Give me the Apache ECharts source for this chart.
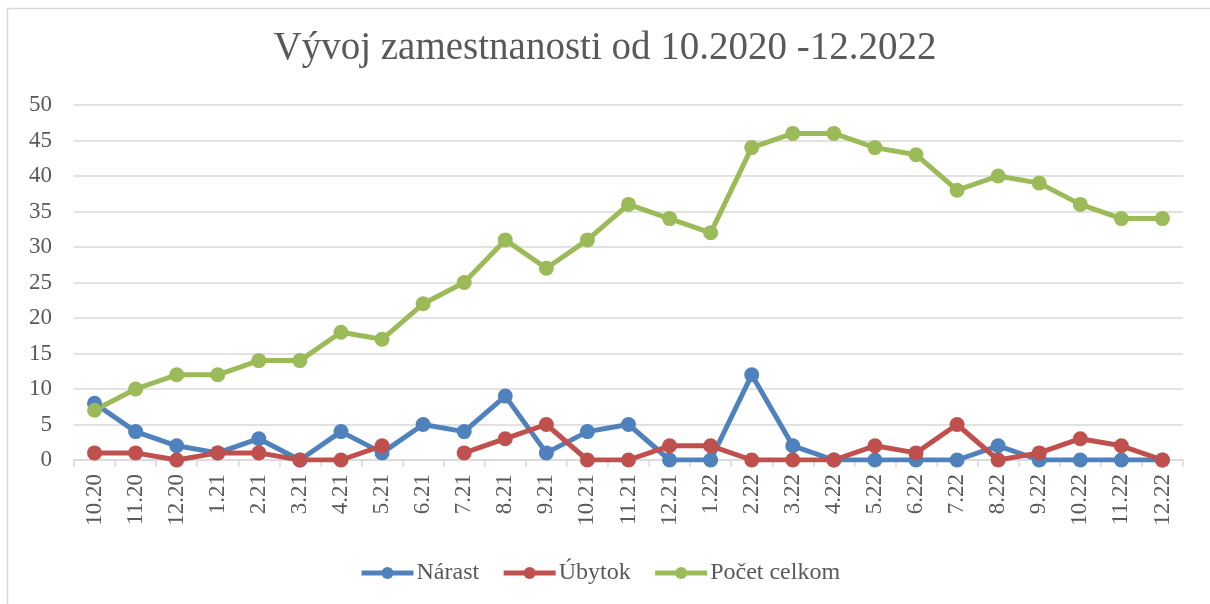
<!DOCTYPE html>
<html>
<head>
<meta charset="utf-8">
<script src="https://cdn.jsdelivr.net/npm/echarts@6/dist/echarts.min.js"></script>
<style>
  html, body { margin: 0; padding: 0; background: #fff; }
  #chart { width: 1210px; height: 604px; }
</style>
</head>
<body>
<div id="chart"></div>
<script>
var months = ['10.20', '11.20', '12.20', '1.21', '2.21', '3.21', '4.21', '5.21', '6.21', '7.21',
  '8.21', '9.21', '10.21', '11.21', '12.21', '1.22', '2.22', '3.22', '4.22', '5.22',
  '6.22', '7.22', '8.22', '9.22', '10.22', '11.22', '12.22'];
var narast = [8, 4, 2, 1, 3, 0, 4, 1, 5, 4, 9, 1, 4, 5, 0, 0, 12, 2, 0, 0, 0, 0, 2, 0, 0, 0, 0];
var ubytok = [1, 1, 0, 1, 1, 0, 0, 2, null, 1, 3, 5, 0, 0, 2, 2, 0, 0, 0, 2, 1, 5, 0, 1, 3, 2, 0];
var pocet = [7, 10, 12, 12, 14, 14, 18, 17, 22, 25, 31, 27, 31, 36, 34, 32, 44, 46, 46, 44, 43, 38, 40, 39, 36, 34, 34];

var font = '"Liberation Serif", "DejaVu Serif", serif';
var textColor = '#595959';

function line(name, data, color) {
  return {
    name: name,
    type: 'line',
    data: data,
    color: color,
    symbol: 'circle',
    symbolSize: 15,
    lineStyle: { width: 5 },
    connectNulls: false
  };
}

var myChart = echarts.init(document.getElementById('chart'));
myChart.setOption({
  animation: false,
  graphic: [{
    type: 'rect',
    shape: { x: 7.5, y: 8.5, width: 1220, height: 620 },
    style: { fill: 'none', stroke: '#d9d9d9', lineWidth: 1.5 }
  }],
  title: {
    text: 'Vývoj zamestnanosti od 10.2020 -12.2022',
    left: 'center',
    top: 24,
    textStyle: { fontFamily: font, fontSize: 39, fontWeight: 'normal', color: textColor }
  },
  legend: {
    bottom: 14,
    left: 354,
    itemWidth: 52,
    itemHeight: 15,
    itemGap: 22,
    textStyle: { fontFamily: font, fontSize: 24, color: textColor, padding: [0, 0, 0, -2] },
    lineStyle: { width: 5 },
    data: ['Nárast', 'Úbytok', 'Počet celkom']
  },
  grid: { left: 74, right: 27, top: 105, bottom: 144 },
  xAxis: {
    type: 'category',
    data: months,
    boundaryGap: true,
    axisLine: { lineStyle: { color: '#d9d9d9', width: 1.5 } },
    axisTick: { show: true, length: 7, lineStyle: { color: '#d9d9d9', width: 1.5 } },
    axisLabel: { rotate: 90, interval: 0, margin: 14, fontFamily: font, fontSize: 23, color: textColor }
  },
  yAxis: {
    type: 'value',
    min: 0,
    max: 50,
    interval: 5,
    axisLine: { show: false },
    axisTick: { show: false },
    splitLine: { lineStyle: { color: '#d9d9d9', width: 1.5 } },
    axisLabel: { margin: 22, fontFamily: font, fontSize: 23, color: textColor }
  },
  series: [
    line('Nárast', narast, '#4F81BD'),
    line('Úbytok', ubytok, '#C0504D'),
    line('Počet celkom', pocet, '#9BBB59')
  ]
});
</script>
</body>
</html>
